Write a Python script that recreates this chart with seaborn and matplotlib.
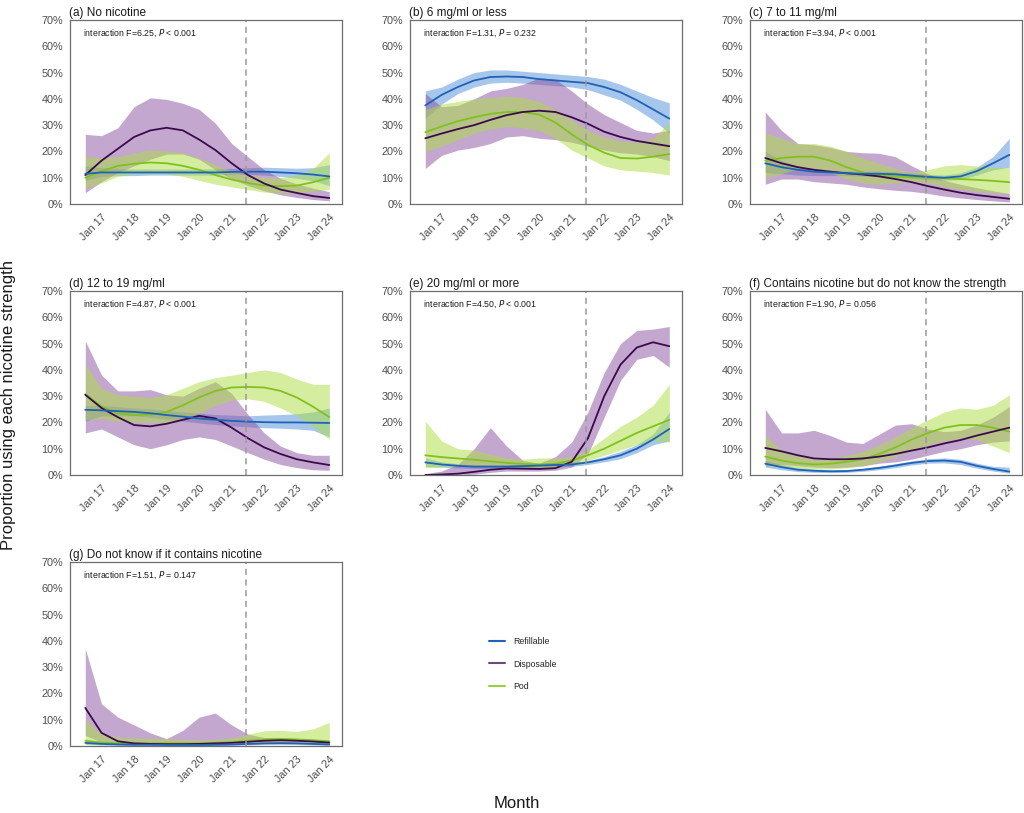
import numpy as np
import pandas as pd
import matplotlib
matplotlib.use("Agg")
import matplotlib.pyplot as plt
from matplotlib.lines import Line2D
import seaborn as sns

# ---------------- data ----------------
months = [2016.5, 2017.0, 2017.5, 2018.0, 2018.5, 2019.0, 2019.5, 2020.0,
          2020.5, 2021.0, 2021.5, 2022.0, 2022.5, 2023.0, 2023.5, 2024.0]
tick_years = [2017, 2018, 2019, 2020, 2021, 2022, 2023, 2024]
tick_labels = ["Jan 17", "Jan 18", "Jan 19", "Jan 20", "Jan 21", "Jan 22", "Jan 23", "Jan 24"]
y_ticks = [0, 10, 20, 30, 40, 50, 60, 70]
y_tick_labels = ["0%", "10%", "20%", "30%", "40%", "50%", "60%", "70%"]
series_names = ["Refillable", "Disposable", "Pod"]
panel_titles = ["(a) No nicotine", "(b) 6 mg/ml or less", "(c) 7 to 11 mg/ml",
                "(d) 12 to 19 mg/ml", "(e) 20 mg/ml or more",
                "(f) Contains nicotine but do not know the strength",
                "(g) Do not know if it contains nicotine"]
interaction_F = ["6.25", "1.31", "3.94", "4.87", "4.50", "1.90", "1.51"]
interaction_P = ["< 0.001", "= 0.232", "< 0.001", "< 0.001", "< 0.001", "= 0.056", "= 0.147"]
policy_change = 2021.43

# (a) No nicotine
a_ref = [11.5, 12, 12, 12, 12, 12, 12, 12, 12, 12.2, 12.3, 12.3, 12.0, 11.7, 11.2, 10.5]
a_ref_lo = [9, 10.5, 10.8, 10.8, 11, 11, 11, 11, 11, 11.2, 11.3, 11, 10.5, 9.8, 8.8, 7]
a_ref_hi = [14.5, 13.8, 13.5, 13.3, 13.3, 13.3, 13.3, 13.3, 13.4, 13.5, 13.8, 14, 13.8, 13.6, 13.8, 15]
a_dis = [11, 16.5, 21, 25.5, 28, 29, 28, 24.5, 20.5, 15.5, 11, 7.8, 5.5, 4.2, 3, 2.3]
a_dis_lo = [4.3, 8.5, 12, 14.5, 17, 19, 19, 17, 13, 9.5, 7, 5, 3.5, 2.5, 1.7, 1.2]
a_dis_hi = [26.5, 26, 29, 37, 40.4, 39.8, 38.3, 36, 30.7, 23, 18, 13, 9.8, 7.6, 6, 4.7]
a_pod = [10, 12.5, 14.5, 15.3, 15.8, 15.5, 14.5, 13, 11, 9.3, 8, 7, 6.8, 7, 8.3, 10]
a_pod_lo = [6, 8, 10.5, 11.5, 11.5, 11.5, 10.5, 9, 7.5, 6.5, 5.5, 4.5, 4.2, 4.3, 4.8, 5.5]
a_pod_hi = [18, 17.5, 18, 19.5, 20.5, 20.2, 19.5, 17.5, 15, 12.5, 11, 10, 10, 11, 13.5, 19.5]

# (b) 6 mg/ml or less
b_ref = [37.5, 41.5, 44.5, 47, 48.3, 48.5, 48.3, 47.5, 47, 46.5, 46, 44.5, 42.5, 39.5, 36, 32.5]
b_ref_lo = [32.5, 38, 42, 44.5, 46, 46.3, 46, 45.5, 45, 44.5, 43.5, 41.5, 39.5, 36, 32, 27]
b_ref_hi = [43, 44.5, 47.5, 50, 51, 51, 50.5, 50, 49.5, 49, 48.5, 47.5, 45.5, 43, 40.5, 38.5]
b_dis = [25, 26.8, 28.5, 30, 32, 33.8, 35, 35.5, 35, 33, 30.5, 27.5, 25.5, 24, 23, 22]
b_dis_lo = [13.5, 18.5, 20.5, 21.5, 23, 25.5, 26, 25, 24.5, 23.5, 22, 20.5, 19.5, 19, 18, 16.5]
b_dis_hi = [42, 37, 37.5, 40, 43, 44, 45.5, 48, 47.5, 43, 38, 34, 31, 28, 27, 28]
b_pod = [27.3, 29.5, 31.5, 33, 34.3, 35, 35, 34, 31, 26.5, 22.5, 19.5, 17.5, 17.3, 18, 19]
b_pod_lo = [20, 22, 24.5, 27, 28.5, 29.5, 29, 28, 25, 20.5, 17.5, 14.5, 13, 12.5, 12, 11]
b_pod_hi = [36, 38, 39, 40, 40.5, 41, 40.5, 39, 36, 32, 28, 25.5, 24, 23.5, 25, 31]

# (c) 7 to 11 mg/ml
c_ref = [15.5, 14, 13, 12.3, 12, 11.7, 11.5, 11.5, 11.3, 10.8, 10.3, 10, 10.5, 12.5, 15.5, 18.7]
c_ref_lo = [12, 11.5, 11, 10.8, 10.8, 10.8, 10.5, 10.5, 10.3, 9.8, 9.3, 9, 9.3, 11, 13, 14]
c_ref_hi = [20, 16.5, 14.5, 13.5, 13, 12.5, 12.5, 12.5, 12.3, 11.8, 11.3, 11, 11.8, 14, 18, 25]
c_dis = [17.5, 15.5, 14, 13, 12.3, 11.7, 11.2, 10.5, 9.5, 8.3, 6.8, 5.5, 4.3, 3.4, 2.7, 2]
c_dis_lo = [7.5, 9.5, 9.5, 8.5, 8, 7.5, 6.5, 5.8, 5.2, 4.8, 4, 3, 2.3, 1.7, 1.2, 0.8]
c_dis_hi = [35, 28, 23, 22.5, 21.5, 20, 19.5, 19.3, 18, 14.5, 11.5, 9, 7.5, 6.2, 5, 4]
c_pod = [16.5, 17.5, 18, 18, 16.5, 14, 12, 11, 10.5, 10.2, 10, 9.8, 9.5, 9.2, 8.8, 8.3]
c_pod_lo = [10, 11.5, 13.5, 13.5, 12, 9.5, 8, 7.5, 8, 8.5, 8, 6.5, 5.5, 4.8, 4.3, 4]
c_pod_hi = [27, 25, 23, 23, 22, 20, 17.5, 15.5, 13.5, 12, 13, 14.5, 15, 14.5, 14, 14]

# (d) 12 to 19 mg/ml
d_ref = [24.8, 24.6, 24.3, 24, 23.5, 22.8, 22.2, 21.5, 21, 20.6, 20.3, 20.1, 20, 20, 19.9, 19.8]
d_ref_lo = [20.5, 22.5, 22.5, 22.5, 22, 21.2, 20.5, 19.8, 19.2, 18.7, 18.3, 18, 17.8, 17.5, 17, 14.5]
d_ref_hi = [26.5, 26.5, 26, 25.5, 25.2, 24.5, 24, 23.5, 23, 22.8, 22.5, 22.8, 23, 23.3, 24, 25.5]
d_dis = [30.5, 25.5, 22, 19, 18.5, 19.5, 21, 22.5, 21.5, 18, 14, 10.5, 8, 6, 4.8, 3.8]
d_dis_lo = [16, 17.5, 14.5, 11.5, 10, 11.5, 13.5, 14.5, 13.5, 11, 8.5, 6, 4, 2.8, 2, 1.8]
d_dis_hi = [51, 38, 32, 32, 32.5, 30.5, 30, 33, 35.5, 31, 23, 16, 11, 8.5, 7.5, 7.5]
d_pod = [30.8, 26, 23.5, 22.8, 23, 24, 26.5, 29.5, 32, 33.3, 33.5, 33.3, 32, 29.5, 26, 22]
d_pod_lo = [21, 21.5, 20.5, 20, 20, 20, 21.5, 23.5, 26.5, 28.5, 29, 28, 25.5, 22.5, 18.5, 13.5]
d_pod_hi = [42, 33, 30.5, 30, 29.5, 30.5, 33, 35.5, 37, 38, 39, 40, 39, 36.5, 34.5, 34.5]

# (e) 20 mg/ml or more
e_ref = [4.8, 4, 3.5, 3.2, 3.2, 3.2, 3.4, 3.6, 3.8, 4, 4.8, 6, 7.5, 10, 13.5, 17.5]
e_ref_lo = [3.2, 3, 2.7, 2.5, 2.5, 2.5, 2.7, 2.9, 3.1, 3.3, 4, 5, 6.2, 8.5, 11.5, 13]
e_ref_hi = [6.5, 5, 4.3, 3.8, 3.8, 3.8, 4, 4.3, 4.5, 4.8, 5.5, 7, 9, 11.5, 15.5, 24]
e_dis = [0, 0.2, 0.5, 1.2, 2, 2.5, 2.4, 2.3, 2.6, 5, 14, 30, 42, 48.5, 50.5, 49]
e_dis_lo = [0, 0, 0, 0.3, 1, 1.5, 1.5, 1.5, 1.8, 3, 8, 22, 36, 44, 45.5, 41]
e_dis_hi = [0.5, 1.5, 4, 10, 18, 11, 5.5, 4.5, 7, 12.5, 24, 39, 50, 55, 55.5, 56.5]
e_pod = [7.5, 6.8, 6.3, 5.8, 5.2, 4.6, 4.2, 4, 4.3, 5.5, 7.5, 10, 13, 16, 18.5, 21]
e_pod_lo = [2.8, 3, 3.5, 3.5, 3.5, 3.2, 3, 2.8, 3, 4, 5.5, 7.5, 9.5, 11.5, 13, 12.5]
e_pod_hi = [20.5, 13, 10, 9.5, 8, 6.5, 6, 6.5, 6.5, 7, 9.5, 14, 18.5, 22, 26.5, 34.5]

# (f) Contains nicotine but do not know the strength
f_ref = [4.3, 3, 2, 1.6, 1.4, 1.5, 2, 2.7, 3.6, 4.6, 5.3, 5.5, 5, 3.5, 2.3, 1.3]
f_ref_lo = [3, 2, 1.3, 1, 0.9, 1, 1.4, 2, 2.8, 3.8, 4.5, 4.6, 4, 2.6, 1.5, 0.7]
f_ref_hi = [5.5, 4, 2.8, 2.3, 2, 2, 2.5, 3.3, 4.3, 5.4, 6.2, 6.5, 6, 4.5, 3.3, 3]
f_dis = [10.3, 9, 7.5, 6.3, 6, 6, 6.3, 7, 8, 9.3, 10.5, 12, 13.3, 15, 16.5, 18]
f_dis_lo = [3.5, 4, 3.5, 3, 2.8, 3, 3.5, 4.5, 5, 6, 7.5, 9, 10, 11.5, 12.5, 13]
f_dis_hi = [25, 16, 16, 17, 15, 12.5, 12, 15.5, 19, 19.5, 17.5, 16.5, 17, 19, 22, 26]
f_pod = [7, 5.5, 4.5, 4, 4.3, 5, 6, 8, 10.5, 13.5, 16, 18, 19, 19, 18, 16.5]
f_pod_lo = [3.5, 3, 2.5, 2.3, 2.3, 2.7, 3.5, 5, 7, 9.5, 11.5, 13, 14, 13.5, 11, 8.5]
f_pod_hi = [15, 9.5, 7.5, 6.5, 6.5, 7.5, 9, 11.5, 14.5, 18, 21, 24, 25.5, 25, 26.5, 30.5]

# (g) Do not know if it contains nicotine
g_ref = [1.2, 0.8, 0.6, 0.5, 0.5, 0.4, 0.4, 0.4, 0.5, 0.6, 0.8, 1, 1.1, 1, 0.8, 0.6]
g_ref_lo = [0.6, 0.4, 0.3, 0.2, 0.2, 0.2, 0.2, 0.2, 0.2, 0.3, 0.4, 0.6, 0.6, 0.6, 0.4, 0.2]
g_ref_hi = [2, 1.3, 1, 0.8, 0.8, 0.7, 0.7, 0.7, 0.8, 1, 1.2, 1.5, 1.6, 1.5, 1.3, 1.2]
g_dis = [14.5, 5, 1.8, 1, 0.8, 0.7, 0.7, 0.8, 1, 1.2, 1.6, 2, 2.2, 2, 1.7, 1.3]
g_dis_lo = [4, 1.5, 0.5, 0.3, 0.2, 0.2, 0.2, 0.2, 0.3, 0.4, 0.6, 1, 1.2, 1, 0.8, 0.6]
g_dis_hi = [37, 16, 11, 8, 5, 2.8, 6, 11, 12.5, 8, 4.5, 3.2, 3, 2.8, 2.2, 2]
g_pod = [2, 1.3, 1, 1, 1, 1, 1, 1, 1.2, 1.5, 2, 2.5, 2.7, 2.5, 2.2, 1.8]
g_pod_lo = [0.7, 0.5, 0.4, 0.4, 0.4, 0.4, 0.4, 0.4, 0.5, 0.7, 1, 1.2, 1.3, 1.2, 0.8, 0.5]
g_pod_hi = [10, 4.5, 3.5, 3, 3, 2.8, 2.5, 2.3, 2.5, 3, 4.5, 5.8, 6, 5.5, 6.5, 9]

panels = [
    [(a_ref, a_ref_lo, a_ref_hi), (a_dis, a_dis_lo, a_dis_hi), (a_pod, a_pod_lo, a_pod_hi)],
    [(b_ref, b_ref_lo, b_ref_hi), (b_dis, b_dis_lo, b_dis_hi), (b_pod, b_pod_lo, b_pod_hi)],
    [(c_ref, c_ref_lo, c_ref_hi), (c_dis, c_dis_lo, c_dis_hi), (c_pod, c_pod_lo, c_pod_hi)],
    [(d_ref, d_ref_lo, d_ref_hi), (d_dis, d_dis_lo, d_dis_hi), (d_pod, d_pod_lo, d_pod_hi)],
    [(e_ref, e_ref_lo, e_ref_hi), (e_dis, e_dis_lo, e_dis_hi), (e_pod, e_pod_lo, e_pod_hi)],
    [(f_ref, f_ref_lo, f_ref_hi), (f_dis, f_dis_lo, f_dis_hi), (f_pod, f_pod_lo, f_pod_hi)],
    [(g_ref, g_ref_lo, g_ref_hi), (g_dis, g_dis_lo, g_dis_hi), (g_pod, g_pod_lo, g_pod_hi)],
]

# ---------------- style ----------------
sns.set_theme(style="white")
plt.rcParams["font.family"] = ["Liberation Sans", "DejaVu Sans"]

line_colors = {"Refillable": "#1f62b8", "Disposable": "#3b0a4c", "Pod": "#7fc21e"}
band_colors = {"Refillable": "#4f90d8", "Disposable": "#8951a1", "Pod": "#addd41"}
band_alpha = 0.5

fig = plt.figure(figsize=(10.24, 8.13), dpi=100)
W, H = 1024, 813
col_left = [70, 410, 750]
row_top = [20, 291, 562]
ax_w, ax_h = 272, 184

positions = [(0, 0), (0, 1), (0, 2), (1, 0), (1, 1), (1, 2), (2, 0)]

for i, (r, c) in enumerate(positions):
    left = col_left[c] / W
    bottom = 1 - (row_top[r] + ax_h) / H
    ax = fig.add_axes([left, bottom, ax_w / W, ax_h / H])

    rows = []
    for name, (m, lo, hi) in zip(series_names, panels[i]):
        for x, mv, lv, hv in zip(months, m, lo, hi):
            rows.append({"month": x, "series": name, "value": mv, "lo": lv, "hi": hv})
    df = pd.DataFrame(rows)

    for name in series_names:
        sub = df[df["series"] == name]
        ax.fill_between(sub["month"], sub["lo"], sub["hi"], color=band_colors[name],
                        alpha=band_alpha, linewidth=0)
    for name in ["Pod", "Disposable", "Refillable"]:
        sub = df[df["series"] == name]
        sns.lineplot(data=sub, x="month", y="value", ax=ax, color=line_colors[name],
                     linewidth=1.3, legend=False)

    ax.axvline(policy_change, color="#9a9a9a", linestyle=(0, (4, 3)), linewidth=1.1)

    ax.set_xlim(2016.03, 2024.39)
    ax.set_ylim(0, 70)
    ax.set_yticks(y_ticks)
    ax.set_yticklabels(y_tick_labels)
    ax.set_xticks(tick_years)
    ax.set_xticklabels(tick_labels, rotation=45, ha="right", rotation_mode="anchor")
    ax.tick_params(axis="both", which="both", length=3, width=0.8, color="#555555",
                   labelsize=7.8, labelcolor="#4d4d4d", direction="out", pad=2)
    ax.tick_params(axis="x", pad=3)
    ax.set_xlabel("")
    ax.set_ylabel("")
    for sp in ax.spines.values():
        sp.set_color("#6e6e6e")
        sp.set_linewidth(0.9)
    ax.set_title(panel_titles[i], loc="left", fontsize=8.5, color="#1a1a1a", pad=3, x=-0.005)
    ax.text(0.048, 0.93, "interaction F=" + interaction_F[i] + ", $\\it{P}$ " + interaction_P[i],
            transform=ax.transAxes, fontsize=6.3, color="#1a1a1a", va="center", ha="left")

fig.text(9 / W, 1 - 405 / H, "Proportion using each nicotine strength", rotation=90,
         fontsize=12, color="#1a1a1a", ha="center", va="center")
fig.text(517 / W, 1 - 803 / H, "Month", fontsize=12, color="#1a1a1a", ha="center", va="center")

handles = [Line2D([0], [0], color=line_colors["Refillable"], linewidth=1.5),
           Line2D([0], [0], color="#6a4a80", linewidth=1.5),
           Line2D([0], [0], color="#9ccf3c", linewidth=1.5)]
fig.legend(handles, series_names, loc="center", bbox_to_anchor=(523 / W, 1 - 664 / H),
           frameon=False, fontsize=6.3, handlelength=1.8, labelspacing=1.5, handletextpad=1.0)

fig.savefig("out.png", dpi=100)
